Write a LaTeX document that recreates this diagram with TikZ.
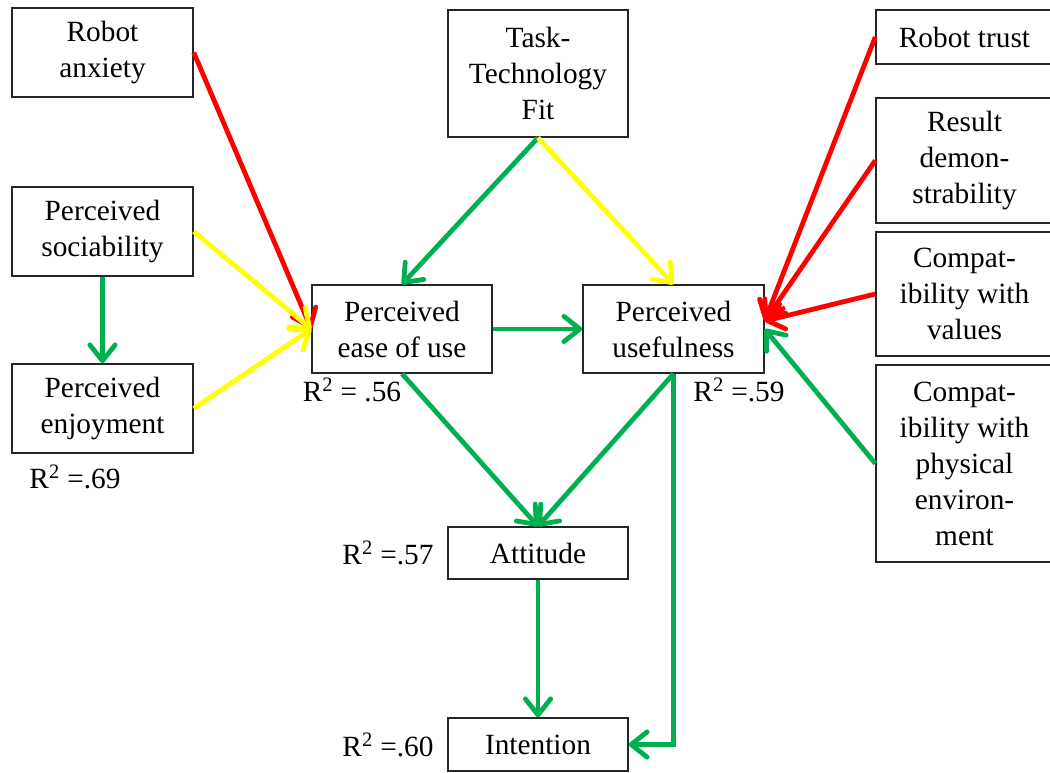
\documentclass[tikz,border=0pt]{standalone}
\usepackage{fontspec}
\setmainfont{Liberation Serif}
\usetikzlibrary{arrows.meta}
\definecolor{pathgreen}{HTML}{00B050}
\definecolor{pathred}{HTML}{FF0000}
\definecolor{pathyellow}{HTML}{FFFF00}
\definecolor{frame}{HTML}{262626}

\begin{document}
\begin{tikzpicture}[x=0.75pt,y=-0.75pt,
  box/.style={draw=frame, line width=1.1pt, align=center, inner sep=0pt,
    font=\fontsize{22}{27}\selectfont},
  rsq/.style={inner sep=0pt, font=\fontsize{22}{27}\selectfont},
  link/.style={line width=3.6pt,
    -{Straight Barb[length=12pt,width=19pt,round]}}]
\useasboundingbox (0,0) rectangle (1050,772);

% left column
\node[box, minimum width=135.75pt, minimum height=66.75pt] (anx) at (102.5,52.5) {Robot\\anxiety};
\node[box, minimum width=135.75pt, minimum height=66.75pt] (soc) at (102.5,231.5) {Perceived\\sociability};
\node[box, minimum width=135.75pt, minimum height=66.75pt] (enj) at (102.5,408.5) {Perceived\\enjoyment};

% centre
\node[box, minimum width=135pt, minimum height=95.25pt] (ttf) at (538,73.5) {Task-\\Technology\\Fit};
\node[box, minimum width=135pt, minimum height=66pt] (ease) at (402,329) {Perceived\\ease of use};
\node[box, minimum width=135.75pt, minimum height=66pt] (use) at (673.5,329) {Perceived\\usefulness};
\node[box, minimum width=135pt, minimum height=39pt] (att) at (538,553) {Attitude};
\node[box, minimum width=135pt, minimum height=39.75pt] (int) at (538,744.5) {Intention};

% right column
\node[box, minimum width=132.75pt, minimum height=40.5pt] (trust) at (964.5,37) {Robot trust};
\node[box, minimum width=132.75pt, minimum height=93.75pt] (demo) at (964.5,160.5) {Result\\demon-\\strability};
\node[box, minimum width=132.75pt, minimum height=93pt] (vals) at (964.5,294) {Compat-\\ibility with\\values};
\node[box, minimum width=132.75pt, minimum height=147.75pt] (phys) at (964.5,463.5) {Compat-\\ibility with\\physical\\environ-\\ment};

% explained variance
\node[rsq] (r69) at (75,477) {R\textsuperscript{2} =.69};
\node[rsq] (r56) at (352,390) {R\textsuperscript{2} = .56};
\node[rsq] (r59) at (739,390) {R\textsuperscript{2} =.59};
\node[rsq] (r57) at (388,553) {R\textsuperscript{2} =.57};
\node[rsq] (r60) at (388,745) {R\textsuperscript{2} =.60};

% paths
\draw[link, pathred] (anx.east) -- (ease.west);
\draw[link, pathyellow] (soc.east) -- (ease.west);
\draw[link, pathyellow] (enj.east) -- (ease.west);
\draw[link, pathgreen] (soc.south) -- (enj.north);
\draw[link, pathgreen] (ttf.south) -- (ease.north);
\draw[link, pathyellow] (ttf.south) -- (use.north);
\draw[link, pathgreen] (ease.east) -- (use.west);
\draw[link, pathgreen] (ease.south) -- (att.north);
\draw[link, pathgreen] (use.south) -- (att.north);
\draw[link, pathgreen] (use.south) |- (int.east);
\draw[link, pathgreen] (att.south) -- (int.north);
\draw[link, pathred] (trust.west) -- (use.5);
\draw[link, pathred] (demo.west) -- (use.5);
\draw[link, pathred] (vals.west) -- (use.5);
\draw[link, pathgreen] (phys.west) -- (use.east);
\end{tikzpicture}
\end{document}
